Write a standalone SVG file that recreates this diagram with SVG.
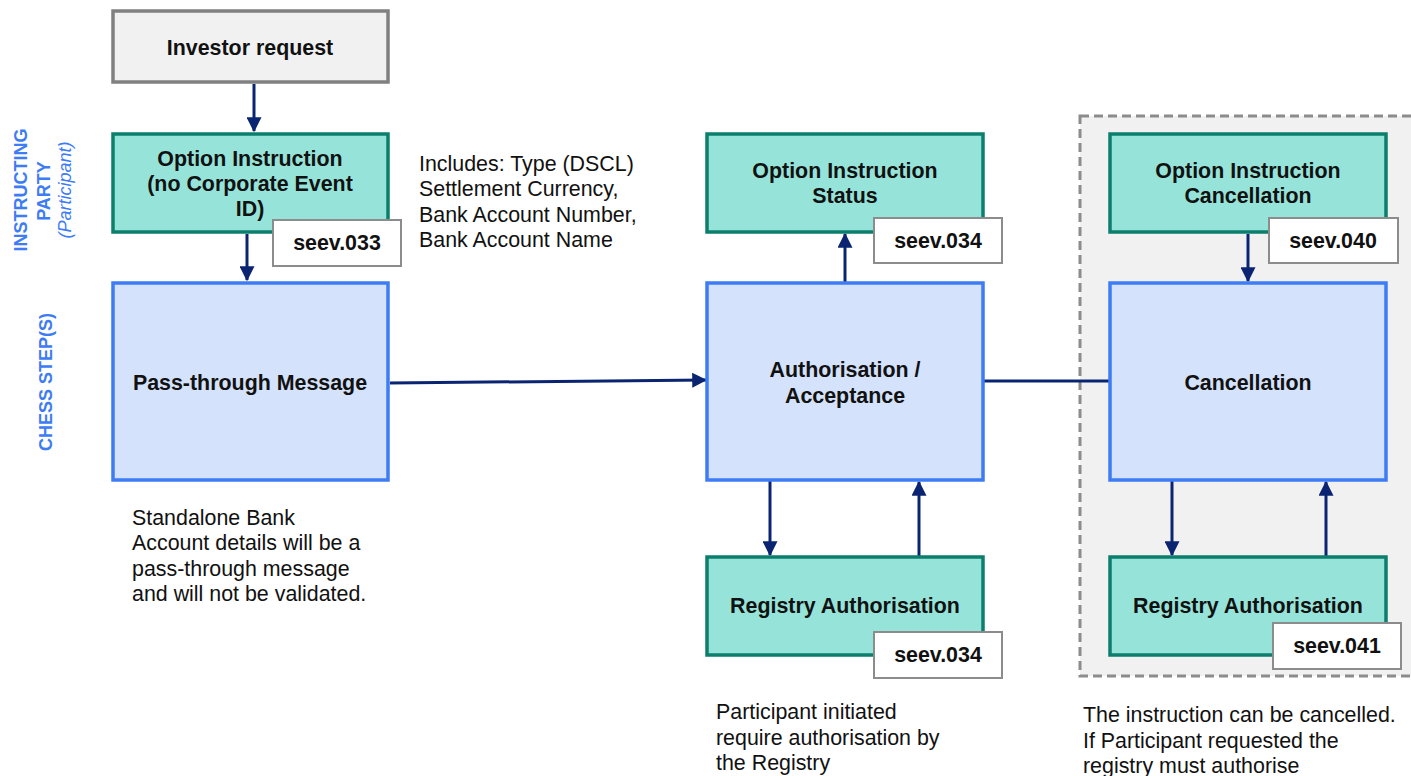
<svg xmlns="http://www.w3.org/2000/svg" width="1411" height="776" viewBox="0 0 1411 776">
<defs>
<marker id="ah" markerWidth="5" markerHeight="5" refX="4.6" refY="2.5" orient="auto" markerUnits="strokeWidth">
<path d="M0,0 L5,2.5 L0,5 Z" fill="#0a2472"/>
</marker>
<style>
.t{font-family:"Liberation Sans",Arial,sans-serif;font-weight:bold;font-size:21.4px;fill:#111;text-anchor:middle}
.b{font-family:"Liberation Sans",Arial,sans-serif;font-size:21.4px;fill:#111}
.lab{font-family:"Liberation Sans",Arial,sans-serif;font-weight:bold;font-size:18px;fill:#3d7cf5;text-anchor:middle}
.labi{font-family:"Liberation Sans",Arial,sans-serif;font-style:italic;font-size:18px;fill:#3d7cf5;text-anchor:middle}
.grey{fill:#f1f1f1;stroke:#808080;stroke-width:3.5}
.teal{fill:#96e4d9;stroke:#0b7f6c;stroke-width:3.5}
.blue{fill:#d4e2fb;stroke:#3d7cf5;stroke-width:3.5}
.tag{fill:#fff;stroke:#8c8c8c;stroke-width:2}
.c{stroke:#0a2472;stroke-width:3;fill:none}
.ca{stroke:#0a2472;stroke-width:3;fill:none;marker-end:url(#ah)}
</style>
</defs>
<rect width="1411" height="776" fill="#fff"/>

<g id="cancel-area">
<rect x="1080" y="116" width="340" height="560" fill="#f1f1f1" stroke="#8c8c8c" stroke-width="3" stroke-dasharray="9,5"/>
</g>

<g id="lane-labels">
<text class="lab" transform="translate(27,190) rotate(-90)">INSTRUCTING</text>
<text class="lab" transform="translate(50,191) rotate(-90)">PARTY</text>
<text class="labi" transform="translate(71,190) rotate(-90)">(Participant)</text>
<text class="lab" transform="translate(52,382) rotate(-90)">CHESS STEP(S)</text>
</g>

<g id="connectors">
<line class="ca" x1="254" y1="84" x2="254" y2="131"/>
<line class="ca" x1="247" y1="234" x2="247" y2="280"/>
<line class="ca" x1="390" y1="383" x2="706" y2="380"/>
<line class="ca" x1="845" y1="282" x2="845" y2="234"/>
<line class="ca" x1="770" y1="481" x2="770" y2="555"/>
<line class="ca" x1="919" y1="556" x2="919" y2="482"/>
<line class="c" x1="983" y1="381" x2="1110" y2="381"/>
<line class="ca" x1="1248" y1="234" x2="1248" y2="281"/>
<line class="ca" x1="1172" y1="481" x2="1172" y2="555"/>
<line class="ca" x1="1326" y1="556" x2="1326" y2="482"/>
</g>

<g id="investor-request">
<rect class="grey" x="113" y="11" width="275" height="71"/>
<text class="t" x="250" y="55">Investor request</text>
</g>

<g id="option-instruction">
<rect class="teal" x="113" y="134" width="275" height="98"/>
<text class="t" x="250" y="166">Option Instruction</text>
<text class="t" x="250" y="191">(no Corporate Event</text>
<text class="t" x="250" y="216">ID)</text>
<rect class="tag" x="273" y="220" width="128" height="46"/>
<text class="t" x="337" y="250">seev.033</text>
</g>

<g id="pass-through">
<rect class="blue" x="113" y="283" width="275" height="197"/>
<text class="t" x="250" y="390">Pass-through Message</text>
</g>

<g id="option-instruction-status">
<rect class="teal" x="707" y="134" width="276" height="98"/>
<text class="t" x="845" y="178">Option Instruction</text>
<text class="t" x="845" y="203">Status</text>
<rect class="tag" x="874" y="218" width="128" height="45"/>
<text class="t" x="938" y="248">seev.034</text>
</g>

<g id="authorisation">
<rect class="blue" x="707" y="283" width="276" height="197"/>
<text class="t" x="845" y="377">Authorisation /</text>
<text class="t" x="845" y="403">Acceptance</text>
</g>

<g id="registry-authorisation-1">
<rect class="teal" x="707" y="557" width="276" height="98"/>
<text class="t" x="845" y="613">Registry Authorisation</text>
<rect class="tag" x="874" y="632" width="128" height="46"/>
<text class="t" x="938" y="662">seev.034</text>
</g>

<g id="option-instruction-cancellation">
<rect class="teal" x="1110" y="134" width="276" height="98"/>
<text class="t" x="1248" y="178">Option Instruction</text>
<text class="t" x="1248" y="203">Cancellation</text>
<rect class="tag" x="1269" y="218" width="129" height="45"/>
<text class="t" x="1333" y="248">seev.040</text>
</g>

<g id="cancellation">
<rect class="blue" x="1110" y="283" width="276" height="197"/>
<text class="t" x="1248" y="390">Cancellation</text>
</g>

<g id="registry-authorisation-2">
<rect class="teal" x="1110" y="557" width="276" height="98"/>
<text class="t" x="1248" y="613">Registry Authorisation</text>
<rect class="tag" x="1273" y="623" width="128" height="46"/>
<text class="t" x="1337" y="653">seev.041</text>
</g>

<g id="notes">
<text class="b" x="419" y="171">Includes: Type (DSCL)</text>
<text class="b" x="419" y="196">Settlement Currency,</text>
<text class="b" x="419" y="222">Bank Account Number,</text>
<text class="b" x="419" y="247">Bank Account Name</text>
<text class="b" x="132" y="525">Standalone Bank</text>
<text class="b" x="132" y="550">Account details will be a</text>
<text class="b" x="132" y="576">pass-through message</text>
<text class="b" x="132" y="601">and will not be validated.</text>
<text class="b" x="716" y="719">Participant initiated</text>
<text class="b" x="716" y="745">require authorisation by</text>
<text class="b" x="716" y="770">the Registry</text>
<text class="b" x="1083" y="722">The instruction can be cancelled.</text>
<text class="b" x="1083" y="748">If Participant requested the</text>
<text class="b" x="1083" y="773">registry must authorise</text>
</g>
</svg>
